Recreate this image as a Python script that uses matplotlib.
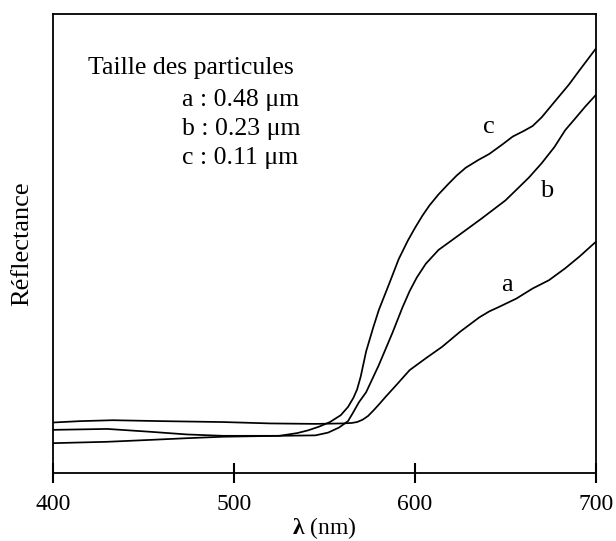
import matplotlib
matplotlib.use("Agg")
import matplotlib.pyplot as plt

plt.rcParams['font.family'] = ['Liberation Serif', 'DejaVu Serif']
plt.rcParams['mathtext.fontset'] = 'custom'
plt.rcParams['mathtext.rm'] = 'Liberation Serif'
plt.rcParams['mathtext.bf'] = 'Liberation Serif:bold'

# Curve a : 0.48 um
wl_a = [400, 415, 433, 460, 494, 520, 545, 560, 565, 568, 571, 574, 577, 580, 584, 590, 597,
        606, 615, 625, 635.5, 641, 646.5, 656, 665, 674, 683, 691, 700]
r_a = [11.0, 11.3, 11.5, 11.3, 11.1, 10.8, 10.7, 10.8, 10.9, 11.1, 11.6, 12.4, 13.6, 14.9,
       16.7, 19.3, 22.4, 25.0, 27.5, 30.8, 33.9, 35.2, 36.2, 38.0, 40.2, 42.0, 44.6, 47.2, 50.4]

# Curve b : 0.23 um
wl_b = [400, 430, 453, 475, 494, 525, 545, 552, 558, 563, 566, 569, 573, 580, 587.5, 593,
        597, 601, 606, 613, 620, 628, 637, 643, 650, 656, 663, 670, 677, 683, 688, 694, 700]
r_b = [6.5, 6.8, 7.2, 7.6, 7.9, 8.1, 8.2, 8.8, 9.9, 11.3, 13.3, 15.4, 17.6, 23.5, 30.5, 36.0,
       39.6, 42.6, 45.6, 48.6, 50.6, 52.9, 55.5, 57.3, 59.4, 61.7, 64.4, 67.5, 71.0, 74.7,
       77.0, 79.8, 82.4]

# Curve c : 0.11 um
wl_c = [400, 430, 453, 474, 494, 525, 535, 541, 547, 553, 559, 563, 566, 568, 570, 573, 577,
        580, 586, 591, 596, 600, 604, 608, 613, 618, 623, 628, 635, 641, 648, 654, 660, 665,
        670, 678, 685, 691, 700]
r_c = [9.4, 9.6, 9.0, 8.4, 8.1, 8.1, 8.7, 9.3, 10.1, 11.1, 12.6, 14.4, 16.4, 18.2, 21.0, 26.5,
       31.8, 35.5, 41.5, 46.6, 50.6, 53.4, 56.0, 58.3, 60.7, 62.8, 64.8, 66.5, 68.2, 69.5,
       71.5, 73.3, 74.5, 75.6, 77.5, 81.3, 84.6, 87.8, 92.5]

curve_labels = ['a', 'b', 'c']
label_pos = [(651, 41.0), (672.5, 61.4), (641, 75.4)]
legend_title = 'Taille des particules'
legend_lines = ['a : 0.48 μm', 'b : 0.23 μm', 'c : 0.11 μm']
xticks = [400, 500, 600, 700]

fig = plt.figure(figsize=(6.16, 5.41), dpi=100)
ax = fig.add_axes([53/616, 1 - 473/541, (596-53)/616, (473-14)/541])

for wl, r in [(wl_a, r_a), (wl_b, r_b), (wl_c, r_c)]:
    ax.plot(wl, r, color='black', lw=1.25, solid_joinstyle='round', solid_capstyle='round')

for lab, (x, y) in zip(curve_labels, label_pos):
    ax.text(x, y, lab, fontsize=19, ha='center', va='center')

ax.text(88/616, 1 - 68/541, legend_title, transform=fig.transFigure, fontsize=18.5,
        ha='left', va='center')
for i, s in enumerate(legend_lines):
    ax.text(182/616, 1 - (100 + 29*i)/541, s, transform=fig.transFigure, fontsize=18.5,
            ha='left', va='center')

ax.set_xlim(400, 700)
ax.set_ylim(0, 100)
ax.set_xticks(xticks)
ax.set_yticks([])
ax.tick_params(axis='x', direction='inout', length=14, width=1.5, labelsize=17, pad=8)
for sp in ax.spines.values():
    sp.set_linewidth(1.3)

ax.set_xlabel(r'$\mathbf{λ}$ (nm)', fontsize=17, labelpad=0)
ax.set_ylabel('Réflectance', fontsize=19, labelpad=14)

fig.savefig('out.png', dpi=100)
